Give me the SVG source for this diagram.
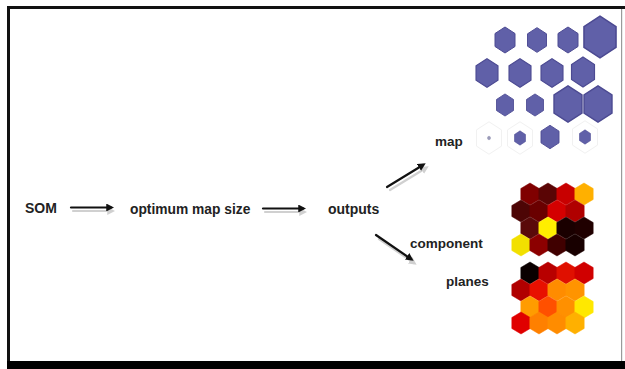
<svg xmlns="http://www.w3.org/2000/svg" xmlns:xlink="http://www.w3.org/1999/xlink" width="625" height="369" viewBox="0 0 625 369">
<style>
.lbl{font-family:"Liberation Sans",Arial,sans-serif;font-weight:bold;fill:#222}
.ar{stroke:#111;stroke-width:2.2;fill:none;stroke-linecap:round}
.sh{stroke:#d0d0d0;stroke-width:2.2;fill:none;stroke-linecap:round}
.pu{fill:#6060a8;stroke:#4c4a92;stroke-width:1}
.ghost{fill:#fff;stroke:#f1f1f1;stroke-width:0.8}
</style>
<defs>
<polygon id="hx" points="0,-13 10,-6.5 10,6.5 0,13 -10,6.5 -10,-6.5"/>
<polygon id="hc" points="0,-11 9.2,-5.5 9.2,5.5 0,11 -9.2,5.5 -9.2,-5.5"/>
<marker id="ah" viewBox="0 0 10 10" refX="6" refY="5" markerWidth="3.6" markerHeight="3.6" orient="auto" markerUnits="strokeWidth">
<path d="M0,0 L10,5 L0,10 Z" fill="#111"/>
</marker>
<marker id="ahs" viewBox="0 0 10 10" refX="6" refY="5" markerWidth="3.6" markerHeight="3.6" orient="auto" markerUnits="strokeWidth">
<path d="M0,0 L10,5 L0,10 Z" fill="#d0d0d0"/>
</marker>
</defs>
<rect width="625" height="369" fill="#fff"/>
<g id="frame">
<rect x="7" y="6" width="618" height="3" fill="#111"/>
<rect x="7" y="6" width="3" height="363" fill="#111"/>
<rect x="7" y="361" width="618" height="8" fill="#000"/>
<rect x="621" y="9" width="1.2" height="352" fill="#9a9a9a"/>
</g>
<g id="connectors">
<line class="sh" x1="73" y1="211" x2="112" y2="211" marker-end="url(#ahs)"/>
<line class="ar" x1="71" y1="207.5" x2="111" y2="207.5" marker-end="url(#ah)"/>
<line class="sh" x1="265" y1="212" x2="304" y2="212" marker-end="url(#ahs)"/>
<line class="ar" x1="263" y1="208.5" x2="303" y2="208.5" marker-end="url(#ah)"/>
<line class="sh" x1="390" y1="190" x2="426" y2="168" marker-end="url(#ahs)"/>
<line class="ar" x1="387" y1="187" x2="423" y2="165" marker-end="url(#ah)"/>
<line class="sh" x1="379" y1="239" x2="414" y2="263" marker-end="url(#ahs)"/>
<line class="ar" x1="376" y1="235" x2="411" y2="259" marker-end="url(#ah)"/>
</g>
<g id="som"><text class="lbl" x="25" y="213" font-size="14">SOM</text></g>
<g id="optimum"><text class="lbl" x="130" y="214" font-size="13.8">optimum map size</text></g>
<g id="outputs"><text class="lbl" x="328" y="214" font-size="14">outputs</text></g>
<g id="map-label"><text class="lbl" x="435" y="146" font-size="13.5">map</text></g>
<g id="component-label"><text class="lbl" x="410" y="248" font-size="13.5">component</text></g>
<g id="planes-label"><text class="lbl" x="446" y="286" font-size="13.5">planes</text></g>
<g id="map">
<use xlink:href="#hx" class="ghost" transform="translate(489,138) scale(1.25)"/>
<use xlink:href="#hx" class="ghost" transform="translate(520,138) scale(1.25)"/>
<use xlink:href="#hx" class="ghost" transform="translate(585,137) scale(1.25)"/>
<use xlink:href="#hx" class="pu" transform="translate(505,40) scale(1.0)"/>
<use xlink:href="#hx" class="pu" transform="translate(537,40) scale(0.95)"/>
<use xlink:href="#hx" class="pu" transform="translate(568,40) scale(1.0)"/>
<use xlink:href="#hx" class="pu" transform="translate(600,37) scale(1.6)"/>
<use xlink:href="#hx" class="pu" transform="translate(487,73) scale(1.1)"/>
<use xlink:href="#hx" class="pu" transform="translate(520,73) scale(1.1)"/>
<use xlink:href="#hx" class="pu" transform="translate(552,73) scale(1.1)"/>
<use xlink:href="#hx" class="pu" transform="translate(583,72) scale(1.15)"/>
<use xlink:href="#hx" class="pu" transform="translate(505,105) scale(0.85)"/>
<use xlink:href="#hx" class="pu" transform="translate(535,105) scale(0.85)"/>
<use xlink:href="#hx" class="pu" transform="translate(568,104) scale(1.4)"/>
<use xlink:href="#hx" class="pu" transform="translate(598,104) scale(1.4)"/>
<use xlink:href="#hx" fill="#9a9ab8" transform="translate(489,138) scale(0.17)"/>
<use xlink:href="#hx" class="pu" transform="translate(520,138) scale(0.55)"/>
<use xlink:href="#hx" class="pu" transform="translate(550,137) scale(0.9)"/>
<use xlink:href="#hx" class="pu" transform="translate(585,137) scale(0.55)"/>
</g>
<g id="component-plane-1">
<use xlink:href="#hc" fill="#800000" stroke="#800000" stroke-width="0.5" transform="translate(530,194)"/>
<use xlink:href="#hc" fill="#5a0505" stroke="#5a0505" stroke-width="0.5" transform="translate(548,194)"/>
<use xlink:href="#hc" fill="#c80000" stroke="#c80000" stroke-width="0.5" transform="translate(566,194)"/>
<use xlink:href="#hc" fill="#ffb000" stroke="#ffb000" stroke-width="0.5" transform="translate(584,194)"/>
<use xlink:href="#hc" fill="#4d0505" stroke="#4d0505" stroke-width="0.5" transform="translate(521,211)"/>
<use xlink:href="#hc" fill="#6a0000" stroke="#6a0000" stroke-width="0.5" transform="translate(539,211)"/>
<use xlink:href="#hc" fill="#d40000" stroke="#d40000" stroke-width="0.5" transform="translate(557,211)"/>
<use xlink:href="#hc" fill="#b00000" stroke="#b00000" stroke-width="0.5" transform="translate(575,211)"/>
<use xlink:href="#hc" fill="#5a0a0a" stroke="#5a0a0a" stroke-width="0.5" transform="translate(530,228)"/>
<use xlink:href="#hc" fill="#ffee00" stroke="#ffee00" stroke-width="0.5" transform="translate(548,228)"/>
<use xlink:href="#hc" fill="#1a0000" stroke="#1a0000" stroke-width="0.5" transform="translate(566,228)"/>
<use xlink:href="#hc" fill="#200000" stroke="#200000" stroke-width="0.5" transform="translate(584,228)"/>
<use xlink:href="#hc" fill="#f2e000" stroke="#f2e000" stroke-width="0.5" transform="translate(521,245)"/>
<use xlink:href="#hc" fill="#8c0000" stroke="#8c0000" stroke-width="0.5" transform="translate(539,245)"/>
<use xlink:href="#hc" fill="#400000" stroke="#400000" stroke-width="0.5" transform="translate(557,245)"/>
<use xlink:href="#hc" fill="#180000" stroke="#180000" stroke-width="0.5" transform="translate(575,245)"/>
</g>
<g id="component-plane-2">
<use xlink:href="#hc" fill="#0a0000" stroke="#0a0000" stroke-width="0.5" transform="translate(530,273)"/>
<use xlink:href="#hc" fill="#b80000" stroke="#b80000" stroke-width="0.5" transform="translate(548,273)"/>
<use xlink:href="#hc" fill="#e01000" stroke="#e01000" stroke-width="0.5" transform="translate(566,273)"/>
<use xlink:href="#hc" fill="#d00000" stroke="#d00000" stroke-width="0.5" transform="translate(584,273)"/>
<use xlink:href="#hc" fill="#b00000" stroke="#b00000" stroke-width="0.5" transform="translate(521,290)"/>
<use xlink:href="#hc" fill="#e81000" stroke="#e81000" stroke-width="0.5" transform="translate(539,290)"/>
<use xlink:href="#hc" fill="#ff8c00" stroke="#ff8c00" stroke-width="0.5" transform="translate(557,290)"/>
<use xlink:href="#hc" fill="#ff9400" stroke="#ff9400" stroke-width="0.5" transform="translate(575,290)"/>
<use xlink:href="#hc" fill="#ff9c00" stroke="#ff9c00" stroke-width="0.5" transform="translate(530,307)"/>
<use xlink:href="#hc" fill="#ff5000" stroke="#ff5000" stroke-width="0.5" transform="translate(548,307)"/>
<use xlink:href="#hc" fill="#ff9000" stroke="#ff9000" stroke-width="0.5" transform="translate(566,307)"/>
<use xlink:href="#hc" fill="#ffe800" stroke="#ffe800" stroke-width="0.5" transform="translate(584,307)"/>
<use xlink:href="#hc" fill="#e00000" stroke="#e00000" stroke-width="0.5" transform="translate(521,323)"/>
<use xlink:href="#hc" fill="#ff8000" stroke="#ff8000" stroke-width="0.5" transform="translate(539,323)"/>
<use xlink:href="#hc" fill="#ff8c00" stroke="#ff8c00" stroke-width="0.5" transform="translate(557,323)"/>
<use xlink:href="#hc" fill="#ffb000" stroke="#ffb000" stroke-width="0.5" transform="translate(575,323)"/>
</g>
</svg>
